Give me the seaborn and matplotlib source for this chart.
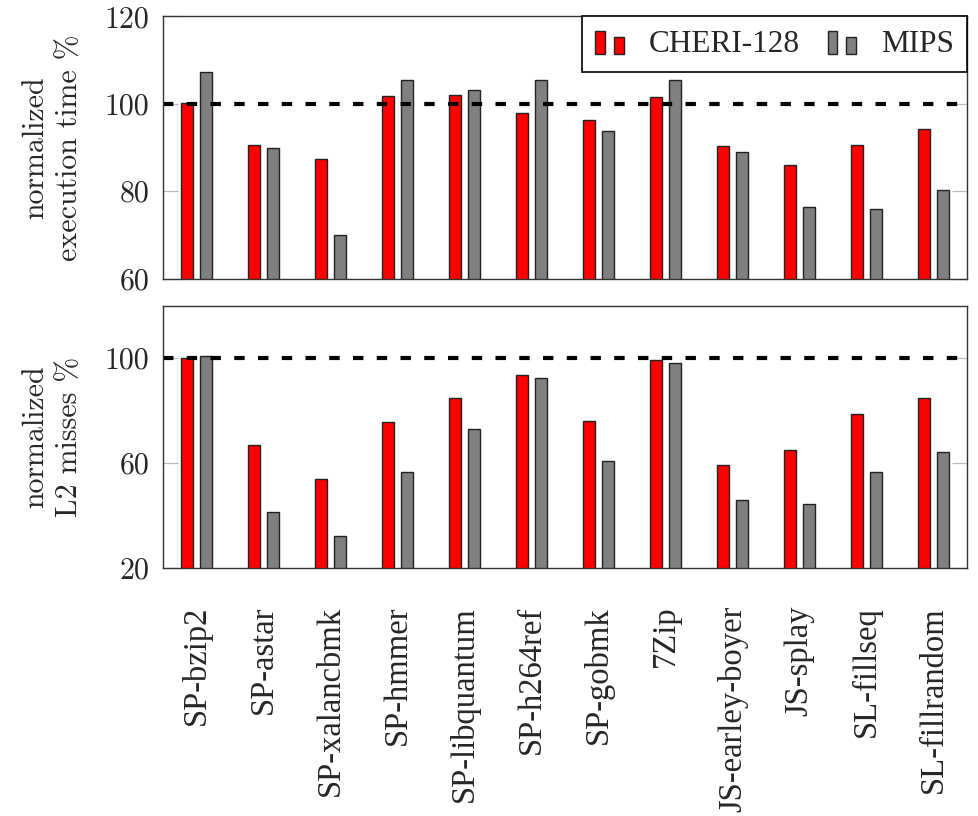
import numpy as np
import pandas as pd
import matplotlib
matplotlib.use("Agg")
import matplotlib.pyplot as plt
from matplotlib.patches import Rectangle
from matplotlib.legend_handler import HandlerBase
import seaborn as sns

# ---- data -------------------------------------------------------------
benchmarks = ["SP-bzip2", "SP-astar", "SP-xalancbmk", "SP-hmmer", "SP-libquantum",
              "SP-h264ref", "SP-gobmk", "7Zip", "JS-earley-boyer", "JS-splay",
              "SL-fillseq", "SL-fillrandom"]
series = ["CHERI-128", "MIPS"]
exec_cheri = [100.2, 90.5, 87.4, 101.7, 102.1, 97.9, 96.3, 101.5, 90.4, 85.9, 90.7, 94.3]
exec_mips = [107.2, 90.0, 70.0, 105.5, 103.2, 105.4, 93.8, 105.5, 88.9, 76.3, 76.0, 80.2]
l2_cheri = [100.0, 66.9, 54.0, 75.7, 84.8, 93.7, 76.0, 99.5, 59.2, 65.1, 78.8, 84.9]
l2_mips = [100.9, 41.3, 32.4, 56.7, 72.9, 92.6, 60.8, 98.1, 45.9, 44.6, 56.6, 64.2]
exec_ticks = [60, 80, 100, 120]
l2_ticks = [20, 60, 100]
baseline = 100
colors = {"CHERI-128": "#ff0000", "MIPS": "#808080"}


def long_frame(a, b):
    return pd.DataFrame({
        "benchmark": benchmarks * 2,
        "arch": [series[0]] * len(benchmarks) + [series[1]] * len(benchmarks),
        "value": list(a) + list(b),
    })


exec_df = long_frame(exec_cheri, exec_mips)
l2_df = long_frame(l2_cheri, l2_mips)

# ---- style ------------------------------------------------------------
sns.set_style("white")
plt.rcParams["font.family"] = ["Liberation Serif", "DejaVu Serif"]

EDGE = "#222222"
SPINE = "#333333"
TICK_FONT = "cmr10"
LABEL_FONT = "Liberation Serif"

fig = plt.figure(figsize=(9.79, 8.16), dpi=100)
ax_top = fig.add_axes([0.1665, 0.6585, 0.8212, 0.3213])
ax_bot = fig.add_axes([0.1665, 0.3036, 0.8212, 0.3218])


def draw_panel(ax, df, ylim, ticks, ylabel):
    sns.barplot(data=df, x="benchmark", y="value", hue="arch",
                hue_order=series, order=benchmarks, palette=colors,
                width=0.56, gap=0.375, errorbar=None,
                edgecolor=EDGE, linewidth=1.0, saturation=1,
                legend=False, ax=ax)
    ax.axhline(baseline, color="black", lw=3.0, dashes=(2.5, 3.2), zorder=5)
    ax.set_xlim(-0.5, len(benchmarks) - 0.5)
    ax.set_ylim(*ylim)
    ax.set_yticks(ticks, labels=[str(t) for t in ticks],
                  family=TICK_FONT, fontsize=21.5)
    ax.tick_params(axis="y", direction="in", length=11, width=0.9,
                   color="#bbbbbb", left=True, right=True, pad=10)
    ax.tick_params(axis="x", length=0)
    ax.set_xlabel("")
    ax.set_ylabel(ylabel, family=TICK_FONT, fontsize=21.5, linespacing=1.3)
    ax.yaxis.set_label_coords(-0.1, 0.5)
    for sp in ax.spines.values():
        sp.set_visible(True)
        sp.set_color(SPINE)
        sp.set_linewidth(1.0)
        sp.set_zorder(6)


draw_panel(ax_top, exec_df, (60, 120), exec_ticks,
           "normalized\nexecution time %")
draw_panel(ax_bot, l2_df, (20, 120), l2_ticks,
           "normalized\nL2 misses %")

ax_top.set_xticklabels([])
ax_bot.tick_params(axis="x", pad=27)
plt.setp(ax_bot.get_xticklabels(), rotation=90, family=LABEL_FONT,
         fontsize=23.5, ha="center", va="top")


# legend entries drawn as a pair of small bars
class PairedBarHandler(HandlerBase):
    def create_artists(self, legend, orig_handle, xdescent, ydescent,
                       width, height, fontsize, trans):
        fc = orig_handle.get_facecolor()
        w = width * 0.34
        x0 = -xdescent
        y0 = -ydescent - height * 0.1
        bars = [
            Rectangle((x0, y0), w, height * 1.05, facecolor=fc,
                      edgecolor=EDGE, lw=1.0),
            Rectangle((x0 + width - w, y0), w, height * 0.75, facecolor=fc,
                      edgecolor=EDGE, lw=1.0),
        ]
        for b in bars:
            b.set_transform(trans)
        return bars


handles = [Rectangle((0, 0), 1, 1, facecolor=colors[s]) for s in series]
leg = ax_top.legend(handles, series, loc="upper right", bbox_to_anchor=(1, 1),
                    borderaxespad=0, ncol=2, frameon=True, fancybox=False,
                    framealpha=1, edgecolor="black",
                    prop={"family": LABEL_FONT, "size": 22.5},
                    handlelength=0.9, handleheight=0.72, handletextpad=0.8,
                    columnspacing=0.9, borderpad=0.42,
                    handler_map={Rectangle: PairedBarHandler()})
leg.get_frame().set_linewidth(1.2)
leg.set_zorder(10)

fig.savefig("out.png", dpi=100)
